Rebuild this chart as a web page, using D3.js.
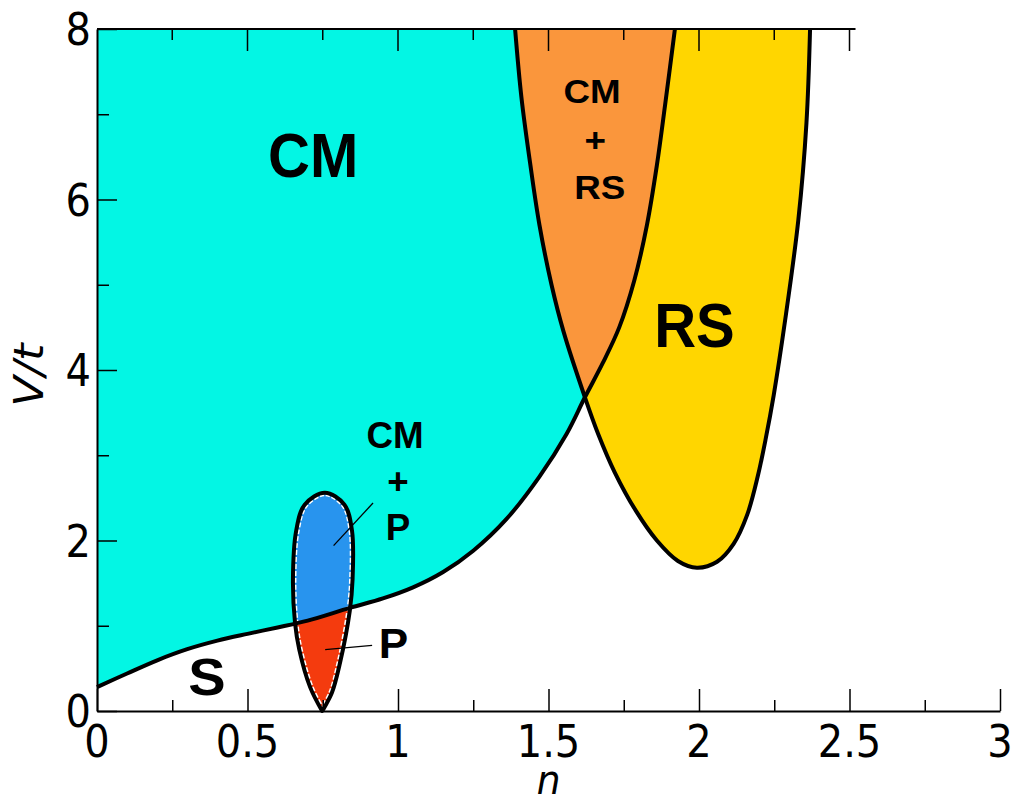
<!DOCTYPE html>
<html>
<head>
<meta charset="utf-8">
<script src="https://cdnjs.cloudflare.com/ajax/libs/d3/7.8.5/d3.min.js"></script>
<style>
  body { margin: 0; background: #fff; }
  svg { display: block; }
</style>
</head>
<body>
<div id="chart"></div>
<script>

// phase boundaries, as [n, V/t]
var cmBoundary = [[0, 0.28], [0.1, 0.44], [0.2, 0.595], [0.3, 0.725], [0.4, 0.825],
                  [0.5, 0.905], [0.6, 0.98], [0.7, 1.06], [0.84, 1.21], [0.95, 1.32],
                  [1.05, 1.45], [1.15, 1.63], [1.25, 1.88], [1.36, 2.25], [1.47, 2.75],
                  [1.56, 3.25], [1.621, 3.68], [1.68, 4.08], [1.735, 4.5], [1.785, 5.05],
                  [1.827, 5.7], [1.86, 6.4], [1.887, 7.1], [1.92, 8]];

var rsBoundary = [[1.389, 8], [1.41, 7.2], [1.44, 6.4], [1.47, 5.7], [1.51, 5.0],
                  [1.55, 4.45], [1.621, 3.68], [1.665, 3.25], [1.72, 2.8], [1.79, 2.35],
                  [1.86, 2.0], [1.93, 1.76], [1.993, 1.68], [2.06, 1.75], [2.115, 1.96],
                  [2.16, 2.3], [2.195, 2.75], [2.222, 3.2], [2.248, 3.7], [2.286, 4.58],
                  [2.33, 5.76], [2.357, 6.9], [2.369, 8]];

var pBubble = [[0.748, 0], [0.708, 0.28], [0.672, 0.72], [0.658, 1.03], [0.651, 1.54],
               [0.662, 2.12], [0.69, 2.42], [0.757, 2.56], [0.822, 2.42], [0.847, 2.12],
               [0.849, 1.54], [0.84, 1.18], [0.807, 0.56], [0.78, 0.21], [0.748, 0]];

var xMajor = [0, 0.5, 1, 1.5, 2, 2.5, 3],
    xMinor = [0.25, 0.75, 1.25, 1.75, 2.25, 2.75],
    xTopTicks = [0.25, 0.5, 0.75, 1, 1.25, 1.5, 1.75, 2, 2.25, 2.5],
    yMajor = [0, 2, 4, 6, 8],
    yMinor = [1, 3, 5, 7];

var labels = [
    {text: "CM", n: 0.718, v: 6.26, size: 58, sx: 1, sy: 1.1},
    {text: "RS", n: 1.985, v: 4.27, size: 58, sx: 1, sy: 1.1},
    {text: "S", n: 0.365, v: 0.19, size: 50, sx: 1.12, sy: 1.02},
    {text: "CM", n: 0.99, v: 3.09, size: 35, sx: 1.05, sy: 1.05},
    {text: "+", n: 1.0, v: 2.55, size: 35, sx: 1.05, sy: 1.05},
    {text: "P", n: 1.0, v: 2.01, size: 35, sx: 1.05, sy: 1.05},
    {text: "CM", n: 1.645, v: 7.13, size: 32, sx: 1.15, sy: 1.02},
    {text: "+", n: 1.655, v: 6.56, size: 32, sx: 1.15, sy: 1.02},
    {text: "RS", n: 1.67, v: 6.01, size: 32, sx: 1.15, sy: 1.02},
    {text: "P", n: 0.985, v: 0.62, size: 42, sx: 1.05, sy: 1.02}
];

// leader lines from labels into the small regions
var leaders = [[[0.786, 1.94], [0.917, 2.44]],
               [[0.758, 0.72], [0.914, 0.77]]];

var svg_dx = 1018, svg_dy = 794;

var x = d3.scaleLinear().domain([0, 3]).range([97, 1000]),
    y = d3.scaleLinear().domain([0, 8]).range([711, 29]);

var svg = d3.select("#chart")
            .append("svg")
            .attr("width", svg_dx)
            .attr("height", svg_dy);

var smooth = d3.line()
               .x(d => x(d[0]))
               .y(d => y(d[1]))
               .curve(d3.curveCatmullRom.alpha(0.5));

var cmPath = smooth(cmBoundary) + "L" + x(0) + "," + y(8) + "Z",
    rsPath = smooth(rsBoundary) + "Z",
    bubblePath = smooth(pBubble) + "Z";

var defs = svg.append("defs");
defs.append("clipPath").attr("id", "cmClip")
    .append("path").attr("d", cmPath);
defs.append("clipPath").attr("id", "bubbleClip")
    .append("path").attr("d", bubblePath);

// filled regions
svg.append("path").attr("d", cmPath).style("fill", "#03f6e4");
svg.append("path").attr("d", rsPath).style("fill", "#ffd600");
svg.append("path").attr("d", rsPath).attr("clip-path", "url(#cmClip)").style("fill", "#fa963c");
svg.append("path").attr("d", bubblePath).style("fill", "#f43b0e");
svg.append("path").attr("d", bubblePath).attr("clip-path", "url(#cmClip)").style("fill", "#2894ee");

// thin white fringe inside the bubble outline
svg.append("path").attr("d", bubblePath)
   .attr("clip-path", "url(#bubbleClip)")
   .style("fill", "none").style("stroke", "#fff")
   .style("stroke-width", 7).style("stroke-dasharray", "5,2");

// boundary lines
[smooth(cmBoundary), smooth(rsBoundary), bubblePath].forEach(function(d) {
    svg.append("path")
       .attr("d", d)
       .style("fill", "none")
       .style("stroke", "#000")
       .style("stroke-width", 4)
       .style("stroke-linejoin", "round");
});

svg.selectAll(".leader")
   .data(leaders)
   .enter()
   .append("line")
   .attr("x1", d => x(d[0][0]))
   .attr("y1", d => y(d[0][1]))
   .attr("x2", d => x(d[1][0]))
   .attr("y2", d => y(d[1][1]))
   .style("stroke", "#000")
   .style("stroke-width", 1.3);

// axes, ticks pointing inwards
function tickAxis(axis, size, values) {
    return axis.tickValues(values).tickSize(size).tickSizeOuter(0).tickFormat("");
}

var gx = svg.append("g").attr("transform", "translate(0," + y(0) + ")");
gx.call(tickAxis(d3.axisBottom(x), -22, xMajor));
gx.append("g").call(tickAxis(d3.axisBottom(x), -11, xMinor)).select(".domain").remove();

var gy = svg.append("g").attr("transform", "translate(" + x(0) + ",0)");
gy.call(tickAxis(d3.axisLeft(y), -20, yMajor));
gy.append("g").call(tickAxis(d3.axisLeft(y), -12, yMinor)).select(".domain").remove();

var gt = svg.append("g");
gt.append("line")
  .attr("x1", x(0)).attr("x2", x(2.52))
  .attr("y1", y(8)).attr("y2", y(8));
gt.selectAll(".ttick")
  .data(xTopTicks)
  .enter()
  .append("line")
  .attr("x1", d => x(d)).attr("x2", d => x(d))
  .attr("y1", y(8))
  .attr("y2", (d, i) => y(8) + (i % 2 ? 22 : 11));

svg.selectAll(".domain, line").style("stroke", "#000");
svg.selectAll(".domain").style("stroke-width", 2);
gt.select("line").style("stroke-width", 2);
svg.selectAll(".tick line, g line").filter(function() {
    return !d3.select(this).style("stroke-width").startsWith("2");
}).style("stroke-width", 1.5);

// tick labels
svg.selectAll(".xlab")
   .data(xMajor)
   .enter()
   .append("text")
   .attr("transform", d => "translate(" + x(d) + ",757) scale(1,1.12)")
   .attr("text-anchor", "middle")
   .style("font-family", "DejaVu Sans")
   .style("font-size", "40px")
   .text(d => d);

svg.selectAll(".ylab")
   .data(yMajor)
   .enter()
   .append("text")
   .attr("transform", d => "translate(91," + (y(d) + 16) + ") scale(1,1.12)")
   .attr("text-anchor", "end")
   .style("font-family", "DejaVu Sans")
   .style("font-size", "40px")
   .text(d => d);

svg.append("text")
   .attr("transform", "translate(43,375) rotate(-90) scale(1.12,1)")
   .attr("text-anchor", "middle")
   .style("font-family", "DejaVu Sans")
   .style("font-style", "italic")
   .style("font-size", "40px")
   .text("V/t");

svg.append("text")
   .attr("transform", "translate(" + x(1.5) + ",795) scale(1,1.12)")
   .attr("text-anchor", "middle")
   .style("font-family", "DejaVu Sans")
   .style("font-style", "italic")
   .style("font-size", "38px")
   .text("n");

// region names
svg.selectAll(".region")
   .data(labels)
   .enter()
   .append("text")
   .attr("transform", d => "translate(" + x(d.n) + "," + y(d.v) + ") scale(" + d.sx + "," + d.sy + ")")
   .attr("text-anchor", "middle")
   .style("font-family", "Liberation Sans, Arial, sans-serif")
   .style("font-weight", "bold")
   .style("font-size", d => d.size + "px")
   .text(d => d.text);

</script>
</body>
</html>
